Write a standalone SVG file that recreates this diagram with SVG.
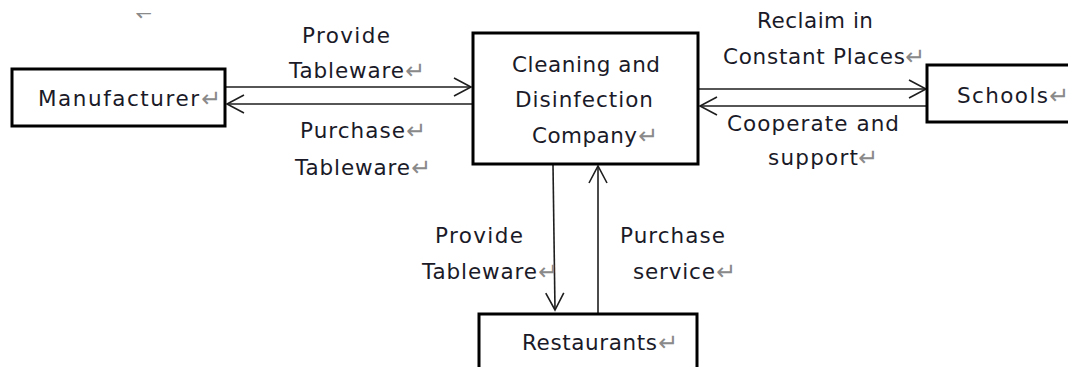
<svg xmlns="http://www.w3.org/2000/svg" width="1068" height="367" viewBox="0 0 1068 367">
  <style>
    .box { fill: #ffffff; stroke: #000000; stroke-width: 3; }
    .edge { fill: none; stroke: #1e1e1e; stroke-width: 1.6; }
    .t { font-family: "DejaVu Sans", Verdana, sans-serif; font-size: 21.5px; fill: #1a1a28; }
    .pm { font-family: "DejaVu Sans", sans-serif; font-size: 24px; fill: #8a8a8a; }
  </style>
  <defs>
    <marker id="open" viewBox="0 0 20 20" refX="18" refY="10" markerWidth="20" markerHeight="20" markerUnits="userSpaceOnUse" orient="auto">
      <path d="M1,1 L18,10 L1,19" fill="none" stroke="#1e1e1e" stroke-width="1.6"/>
    </marker>
    <clipPath id="topcut">
      <rect x="0" y="13" width="300" height="20"/>
    </clipPath>
  </defs>

  <rect width="1068" height="367" fill="#ffffff"/>

  <!-- stray paragraph mark at the top edge -->
  <text class="pm" x="135" y="21" clip-path="url(#topcut)">↵</text>

  <!-- connectors -->
  <g id="connectors">
    <path class="edge" d="M225,87 H471" marker-end="url(#open)"/>
    <path class="edge" d="M472,104 H227" marker-end="url(#open)"/>
    <path class="edge" d="M698,89 H926" marker-end="url(#open)"/>
    <path class="edge" d="M927,106 H700" marker-end="url(#open)"/>
    <path class="edge" d="M553,165 L555,310" marker-end="url(#open)"/>
    <path class="edge" d="M598,313 V166" marker-end="url(#open)"/>

    <!-- connector labels -->
    <text class="t" x="302" y="43" textLength="88" lengthAdjust="spacing">Provide</text>
    <text class="t" x="289" y="78" textLength="115" lengthAdjust="spacing">Tableware</text>
    <text class="pm" x="405" y="79">↵</text>
    <text class="t" x="300" y="138" textLength="105" lengthAdjust="spacing">Purchase</text>
    <text class="pm" x="406" y="139">↵</text>
    <text class="t" x="295" y="175" textLength="115" lengthAdjust="spacing">Tableware</text>
    <text class="pm" x="411" y="176">↵</text>

    <text class="t" x="757" y="28" textLength="116" lengthAdjust="spacing">Reclaim in</text>
    <text class="t" x="723" y="64" textLength="182" lengthAdjust="spacing">Constant Places</text>
    <text class="pm" x="905" y="65">↵</text>
    <text class="t" x="727" y="131" textLength="172" lengthAdjust="spacing">Cooperate and</text>
    <text class="t" x="768" y="165" textLength="90" lengthAdjust="spacing">support</text>
    <text class="pm" x="858" y="166">↵</text>

    <text class="t" x="435" y="243" textLength="88" lengthAdjust="spacing">Provide</text>
    <text class="t" x="422" y="279" textLength="115" lengthAdjust="spacing">Tableware</text>
    <text class="pm" x="538" y="280">↵</text>
    <text class="t" x="620" y="243" textLength="105" lengthAdjust="spacing">Purchase</text>
    <text class="t" x="633" y="279" textLength="82" lengthAdjust="spacing">service</text>
    <text class="pm" x="716" y="280">↵</text>
  </g>

  <g id="manufacturer">
    <rect class="box" x="12" y="69" width="213" height="57"/>
    <text class="t" x="38" y="106" textLength="161" lengthAdjust="spacing">Manufacturer</text>
    <text class="pm" x="201" y="107">↵</text>
  </g>

  <g id="company">
    <rect class="box" x="473" y="33" width="225" height="131"/>
    <text class="t" x="512" y="72" textLength="148" lengthAdjust="spacing">Cleaning and</text>
    <text class="t" x="515" y="107" textLength="138" lengthAdjust="spacing">Disinfection</text>
    <text class="t" x="532" y="143" textLength="105" lengthAdjust="spacing">Company</text>
    <text class="pm" x="638" y="144">↵</text>
  </g>

  <g id="schools">
    <rect class="box" x="927" y="65" width="160" height="57"/>
    <text class="t" x="957" y="103" textLength="91" lengthAdjust="spacing">Schools</text>
    <text class="pm" x="1049" y="104">↵</text>
  </g>

  <g id="restaurants">
    <rect class="box" x="479" y="314" width="218" height="80"/>
    <text class="t" x="522" y="350" textLength="135" lengthAdjust="spacing">Restaurants</text>
    <text class="pm" x="658" y="351">↵</text>
  </g>
</svg>
